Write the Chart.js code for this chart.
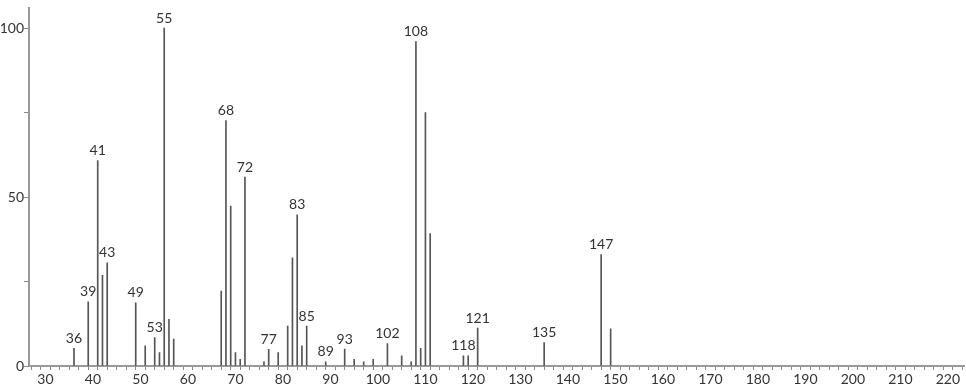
<!DOCTYPE html>
<html lang="en">
<head>
    <meta charset="UTF-8">
    <title>Mass Spectrum</title>
    <script src="https://cdn.jsdelivr.net/npm/chart.js"></script>
    <style>
        html, body { margin: 0; padding: 0; background: #fff; }
        #wrap { width: 966px; height: 389px; }
    </style>
</head>
<body>
    <div id="wrap"><canvas id="msChart"></canvas></div>
    <script>
        // m/z values and relative intensities
        const masses = [36, 39, 41, 42, 43, 49, 51, 53, 54, 55, 56, 57,
                        67, 68, 69, 70, 71, 72, 76, 77, 79, 81, 82, 83, 84, 85,
                        89, 93, 95, 97, 99, 102, 105, 107, 108, 109, 110, 111,
                        118, 119, 121, 135, 147, 149];
        const intensities = [5.2, 19, 60.8, 26.8, 30.5, 18.7, 6, 8.4, 4, 100, 13.8, 8,
                             22.2, 72.6, 47.3, 4, 2, 55.9, 1.2, 4.9, 4, 11.8, 32, 44.7, 6, 11.8,
                             1.2, 5, 2, 1.2, 2, 6.6, 3, 1.2, 96, 5.2, 75, 39.2,
                             3, 3, 11.2, 6.9, 33, 11];
        // peaks that carry an m/z label
        const labelledPeaks = [36, 39, 41, 43, 49, 53, 55, 68, 72, 77, 83, 85,
                               89, 93, 102, 108, 118, 121, 135, 147];
        const xTicksMajor = [30, 40, 50, 60, 70, 80, 90, 100, 110, 120, 130,
                             140, 150, 160, 170, 180, 190, 200, 210, 220];
        const yTicksMajor = [0, 50, 100];

        const FONT = "Lato, 'DejaVu Sans', sans-serif";

        // draw m/z labels above selected peaks
        const peakLabels = {
            id: 'peakLabels',
            afterDatasetsDraw(chart) {
                const { ctx, scales: { x, y } } = chart;
                ctx.save();
                ctx.font = "14px " + FONT;
                ctx.fillStyle = '#333';
                ctx.textAlign = 'center';
                ctx.textBaseline = 'bottom';
                labelledPeaks.forEach(m => {
                    const i = masses.indexOf(m);
                    const px = x.getPixelForValue(m);
                    const py = y.getPixelForValue(intensities[i]);
                    ctx.fillText(String(m), px, py - 3);
                });
                ctx.restore();
            }
        };

        const ctx = document.getElementById('msChart').getContext('2d');
        new Chart(ctx, {
            type: 'bar',
            data: {
                datasets: [{
                    data: masses.map((m, i) => ({ x: m, y: intensities[i] })),
                    backgroundColor: '#555',
                    borderWidth: 0,
                    barThickness: 1
                }]
            },
            options: {
                responsive: true,
                maintainAspectRatio: false,
                animation: false,
                layout: { padding: { top: 0, right: 2, left: 0, bottom: 0 } },
                plugins: {
                    legend: { display: false },
                    tooltip: { enabled: false }
                },
                scales: {
                    x: {
                        type: 'linear',
                        offset: false,
                        min: 26.53,
                        max: 223.4,
                        grid: {
                            drawOnChartArea: false,
                            drawTicks: true,
                            tickLength: 4,
                            tickColor: '#888'
                        },
                        border: { color: '#999', width: 2 },
                        ticks: {
                            stepSize: 2,
                            includeBounds: false,
                            autoSkip: false,
                            maxRotation: 0,
                            padding: 1,
                            color: '#333',
                            font: { family: FONT, size: 14 },
                            callback: v => xTicksMajor.includes(v) ? String(v) : ''
                        },
                        afterFit: s => { s.height = 23; }
                    },
                    y: {
                        min: 0,
                        max: 105.8,
                        grid: {
                            drawOnChartArea: false,
                            drawTicks: true,
                            tickLength: 5,
                            tickColor: '#888'
                        },
                        border: { color: '#999', width: 2 },
                        ticks: {
                            stepSize: 25,
                            includeBounds: false,
                            padding: 0,
                            color: '#333',
                            font: { family: FONT, size: 14 },
                            callback: v => yTicksMajor.includes(v) ? String(v) : ''
                        },
                        afterFit: s => { s.width = 29; }
                    }
                }
            },
            plugins: [peakLabels]
        });
    </script>
</body>
</html>
